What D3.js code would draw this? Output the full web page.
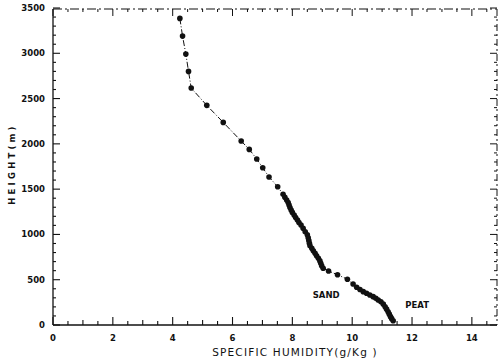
<!DOCTYPE html>
<html><head><meta charset="utf-8">
<script src="https://cdn.jsdelivr.net/npm/d3@7"></script>
<style>body{margin:0;background:#fff}svg{display:block}text{font-family:"DejaVu Sans",sans-serif;fill:#111}</style>
</head><body><svg id="c" width="500" height="361"></svg>
<script>
const humidity = [4.24,4.33,4.44,4.53,4.62,5.14,5.69,6.29,6.56,6.81,7.01,7.22,7.51,
  7.69,7.75,7.81,7.86,7.89,7.92,7.96,8.00,8.06,8.11,8.17,8.22,8.29,8.36,8.43,8.50,8.53,8.55,8.57,8.59,8.65,8.70,8.76,8.81,8.87,8.92,8.95,8.98,9.03,
  9.21,9.51,9.84,
  10.03,10.15,10.26,10.37,10.48,10.59,10.70,10.79,10.87,10.96,11.04,11.10,11.15,11.20,11.24,11.28,11.32,11.37];
const height = [3385,3190,2991,2800,2616,2425,2237,2031,1939,1832,1736,1634,1527,
  1443,1410,1380,1352,1325,1298,1270,1243,1215,1187,1159,1131,1104,1067,1030,997,964,933,902,875,847,820,792,764,736,708,681,653,626,596,
  555,505,453,
  416,392,368,350,331,313,295,276,257,230,202,175,147,120,92,70,47,25];
const xTicks = [0,2,4,6,8,10,12,14];
const yTicks = [0,500,1000,1500,2000,2500,3000,3500];
const labels = [{t:"SAND",x:9.13,y:300},{t:"PEAT",x:12.17,y:190}];

const svg = d3.select("#c");
const L=53,R=497,T=9,B=325;
const x = d3.scaleLinear().domain([0,14.84]).range([L,R]);
const y = d3.scaleLinear().domain([0,3500]).range([B,8]);

const ink="#111";
svg.append("line").attr("x1",L).attr("x2",L).attr("y1",T).attr("y2",B).attr("stroke",ink).attr("stroke-width",1.3);
svg.append("line").attr("x1",L).attr("x2",R).attr("y1",B).attr("y2",B).attr("stroke",ink).attr("stroke-width",1.4);
svg.append("line").attr("x1",L).attr("x2",R).attr("y1",T).attr("y2",T).attr("stroke",ink).attr("stroke-width",1.1).attr("stroke-dasharray","9,3,2,3");
svg.append("line").attr("x1",R).attr("x2",R).attr("y1",T).attr("y2",B).attr("stroke",ink).attr("stroke-width",1).attr("stroke-dasharray","7,3,2,3");

const xMinor = d3.range(0,14.9,0.5);
const yMinor = d3.range(0,3501,100);
const g = svg.append("g").attr("stroke",ink);
xMinor.forEach(v=>{
  const maj = Math.abs(v%2)<1e-6;
  const len = maj?8:(Math.abs(v%1)<1e-6?5:4);
  g.append("line").attr("x1",x(v)).attr("x2",x(v)).attr("y1",B).attr("y2",B-len).attr("stroke-width",1.1);
  g.append("line").attr("x1",x(v)).attr("x2",x(v)).attr("y1",T).attr("y2",T+(maj?7:3)).attr("stroke-width",1);
});
yMinor.forEach(v=>{
  const maj = v%500===0;
  const len = maj?7:3;
  g.append("line").attr("y1",y(v)).attr("y2",y(v)).attr("x1",L).attr("x2",L+len).attr("stroke-width",1.1);
  g.append("line").attr("y1",y(v)).attr("y2",y(v)).attr("x1",R).attr("x2",R-len).attr("stroke-width",1);
});

svg.append("g").selectAll("text").data(xTicks).join("text")
  .attr("x",d=>x(d)).attr("y",341).attr("text-anchor","middle")
  .attr("font-size",8.5).attr("font-weight","bold").text(d=>d);
svg.append("g").selectAll("text").data(yTicks).join("text")
  .attr("x",45).attr("y",d=>y(d)+3).attr("text-anchor","end")
  .attr("font-size",8.5).attr("font-weight","bold").text(d=>d);

svg.append("text").attr("x",295).attr("y",356).attr("text-anchor","middle")
  .attr("font-size",10.5).attr("letter-spacing",1.2).text("SPECIFIC HUMIDITY(g/Kg )");
svg.append("text").attr("transform","translate(15,164) rotate(-90)").attr("text-anchor","middle")
  .attr("font-size",8.5).attr("font-weight","bold").attr("letter-spacing",3.2).text("HEIGHT(m)");

const pts = humidity.map((h,i)=>[h,height[i]]);
svg.append("path").datum(pts)
  .attr("d",d3.line().x(d=>x(d[0])).y(d=>y(d[1])))
  .attr("fill","none").attr("stroke",ink).attr("stroke-width",1).attr("stroke-dasharray","6,2,1,2");
svg.append("g").selectAll("circle").data(pts).join("circle")
  .attr("cx",d=>x(d[0])).attr("cy",d=>y(d[1])).attr("r",2.8).attr("fill",ink);

svg.append("g").selectAll("text").data(labels).join("text")
  .attr("x",d=>x(d.x)).attr("y",d=>y(d.y)).attr("text-anchor","middle")
  .attr("font-size",8.5).attr("font-weight","bold").text(d=>d.t);
</script></body></html>
